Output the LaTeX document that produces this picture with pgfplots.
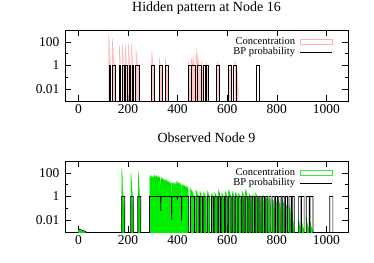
\documentclass[border=0pt]{standalone}
\usepackage{fontspec}
\setmainfont{Liberation Serif}
\usepackage{pgfplots}
\pgfplotsset{compat=1.18}
\definecolor{pinkfill}{RGB}{255,200,200}
\definecolor{pinkline}{RGB}{255,175,175}
\definecolor{gfill}{RGB}{0,238,0}
\definecolor{gline}{RGB}{0,225,0}
\definecolor{glegend}{RGB}{60,230,60}
\begin{document}
\begin{tikzpicture}
\useasboundingbox (0,0) rectangle (374pt,262pt);
\begin{axis}[at={(65pt,161pt)}, anchor=south west, title={Hidden pattern at Node 16},
  scale only axis, width=283pt, height=71pt,
  xmin=-54, xmax=1087, ymode=log, ymin=1e-3, ymax=1e3,
  xtick={0,200,400,600,800,1000}, xticklabels={0,200,400,600,800,1000},
  ytick={0.01,1,100}, yticklabels={0.01,1,100},
  minor ytick={0.1,10},
  tick align=inside, major tick length=6pt, minor tick length=3pt,
  every tick/.style={black, line width=0.6pt},
  axis line style={line width=0.8pt},
  tick label style={font=\fontsize{13.5}{15}\selectfont},
  yticklabel style={xshift=-2pt},
  title style={font=\fontsize{14}{16}\selectfont, anchor=base, yshift=12pt},
  legend style={draw=none, fill=none, at={(1,1)}, anchor=north east, xshift=-15pt, yshift=-6pt,
    font=\fontsize{10.5}{12}\selectfont, inner sep=0pt, nodes={inner sep=1pt}, column sep=4pt, row sep=0pt},
  legend plot pos=right, legend cell align=right]
\addplot[fill=pinkfill, draw=pinkline, line width=0.3pt,
  legend image code/.code={\draw[pinkline, line width=0.8pt, fill=none] (0pt,-2.5pt) rectangle (32pt,2.5pt);}]
coordinates {
(0,1e-4)
(122,1e-4)(122,500)(124,120)(126,15)(128,3)(130,0.6)(131,1e-4)
(137,1e-4)(137,180)(139,50)(141,8)(144,2)(147,0.5)(148,1e-4)
(165,1e-4)(165,50)(167,12)(169,2)(171,0.4)(172,1e-4)
(177,1e-4)(177,75)(179,15)(181,3)(184,0.5)(185,1e-4)
(189,1e-4)(189,62)(191,12)(193,3)(196,0.5)(197,1e-4)
(202,1e-4)(202,70)(204,15)(206,3)(209,0.5)(210,1e-4)
(214,1e-4)(214,70)(216,15)(218,3)(221,0.5)(222,1e-4)
(232,1e-4)(232,28)(234,8)(237,2)(242,0.8)(245,0.3)(246,1e-4)
(292,1e-4)(296,18)(298,5)(300,1.5)(305,0.5)(306,1e-4)
(326,1e-4)(326,4.6)(328,2)(331,1)(336,0.3)(337,1e-4)
(350,1e-4)(350,4.7)(352,2)(355,1)(360,0.3)(361,1e-4)
(444,1e-4)(444,2.6)(447,1)(451,0.5)(453,1e-4)
(455,1e-4)(455,4)(458,1.5)(461,0.7)(462,6.8)(464,2)(467,0.8)(470,0.3)(471,1e-4)
(474,1e-4)(474,38)(476,8)(478,2)(480,0.8)(481,10)(483,3)(487,1)(492,0.5)(494,1e-4)
(496,1e-4)(496,2.9)(499,1)(502,0.5)(503,1e-4)
(514,1e-4)(514,2.2)(517,1)(521,0.5)(523,1e-4)
(561,1e-4)(561,2.2)(564,1)(567,0.3)(568,1e-4)
(610,1e-4)(610,1.3)(613,0.8)(617,0.2)(618,1e-4)
(631,1e-4)(631,2.9)(634,1.2)(640,0.3)(645,0.01)(646,1e-4)
(1050,1e-4)
};
\addlegendentry{Concentration}
\addplot[black, line width=0.7pt,
  legend image code/.code={\draw[black, line width=0.8pt] (0pt,0pt) -- (32pt,0pt);}]
coordinates {
(0,1e-4)
(123,1e-4)(123,1)(130,1)(130,1e-4)
(137,1e-4)(137,1)(147,1)(147,1e-4)
(165,1e-4)(165,1)(171,1)(171,1e-4)
(178,1e-4)(178,1)(184,1)(184,1e-4)
(190,1e-4)(190,1)(196,1)(196,1e-4)
(204,1e-4)(204,1)(210,1)(210,1e-4)
(216,1e-4)(216,1)(222,1)(222,1e-4)
(231,1e-4)(231,1)(245,1)(245,1e-4)
(295,1e-4)(295,1)(306,1)(306,1e-4)
(325,1e-4)(325,1)(337,1)(337,1e-4)
(349,1e-4)(349,1)(361,1)(361,1e-4)
(443,1e-4)(443,1)(454,1)(454,1e-4)
(456,1e-4)(456,1)(470,1)(470,1e-4)
(481,1e-4)(481,1)(494,1)(494,1e-4)
(503,1e-4)(503,1)(512,1)(512,1e-4)
(514,1e-4)(514,1)(523,1)(523,1e-4)
(557,1e-4)(557,1)(567,1)(567,1e-4)
(604,1e-4)(604,1)(617,1)(617,1e-4)
(624,1e-4)(624,1)(637,1)(637,1e-4)
(718,1e-4)(718,1)(730,1)(730,1e-4)
(1050,1e-4)
};
\addlegendentry{BP probability}
\end{axis}
\begin{axis}[at={(65pt,30pt)}, anchor=south west, title={Observed Node 9},
  scale only axis, width=283pt, height=71pt,
  xmin=-54, xmax=1087, ymode=log, ymin=1e-3, ymax=1e3,
  xtick={0,200,400,600,800,1000}, xticklabels={0,200,400,600,800,1000},
  ytick={0.01,1,100}, yticklabels={0.01,1,100},
  minor ytick={0.1,10},
  tick align=inside, major tick length=6pt, minor tick length=3pt,
  every tick/.style={black, line width=0.6pt},
  axis line style={line width=0.8pt},
  tick label style={font=\fontsize{13.5}{15}\selectfont},
  yticklabel style={xshift=-2pt},
  title style={font=\fontsize{14}{16}\selectfont, anchor=base, yshift=12pt},
  legend style={draw=none, fill=none, at={(1,1)}, anchor=north east, xshift=-15pt, yshift=-6pt,
    font=\fontsize{10.5}{12}\selectfont, inner sep=0pt, nodes={inner sep=1pt}, column sep=4pt, row sep=0pt},
  legend plot pos=right, legend cell align=right]
\addplot[fill=gfill, draw=gline, line width=0.3pt,
  legend image code/.code={\draw[glegend, line width=0.8pt, fill=none] (0pt,-2.5pt) rectangle (32pt,2.5pt);}]
coordinates {
(0,1e-4)(0,0.0015)(15,0.0012)(30,0.001)(32,1e-4)
(175,1e-4)(175,240)(177,40)(179,3)(182,0.5)(186,0.05)(188,1e-4)
(212,1e-4)(212,100)(214,20)(217,2)(220,0.1)(222,1e-4)
(241,1e-4)(241,130)(243,25)(246,3)(249,0.2)(251,1e-4)
(288,1e-4)(288,60)(290,15)(292,55)(294,12)(296,65)(298,18)(300,50)(302,10)(304,60)(306,20)(308,70)(310,15)(312,55)(314,20)(316,65)(318,12)(320,50)(322,18)(324,60)(326,15)(328,45)(330,8)(331,0.05)(333,40)(335,10)(337,45)(339,12)(341,35)(343,8)(345,30)(347,10)(349,28)(351,7)(353,25)(355,9)(357,30)(359,6)(361,22)(363,8)(365,20)(367,5)(369,18)(371,6)(373,15)(375,0.01)(377,16)(379,5)(381,14)(383,4)(385,18)(387,6)(389,12)(391,4)(393,15)(395,5)(397,20)(399,6)(401,18)(403,5)(405,14)(407,4)(409,16)(411,5)(413,12)(415,0.01)(417,10)(419,4)(421,12)(423,3)(425,9)(427,3)(429,10)(431,3)(433,8)(435,2)(437,7)(439,2)(441,8)(443,2)(445,1e-4)
(452,1e-4)(452,5.6)(454,1.5)(456,4)(458,0.8)(461,3)(464,0.5)(467,1.5)(468,1e-4)
(474,1e-4)(474,4)(476,1.2)(478,3)(481,0.6)(484,1.5)(486,1e-4)
(490,1e-4)(490,3)(492,0.9)(494,2)(497,0.4)(499,1)(500,1e-4)
(505,1e-4)(505,2.5)(507,0.7)(509,1.8)(512,0.4)(514,1)(515,1e-4)
(520,1e-4)(520,3)(522,0.9)(524,2)(527,0.5)(529,1.2)(530,1e-4)
(537,1e-4)(537,2)(539,0.6)(541,1.4)(544,0.5)(545,1e-4)
(550,1e-4)(550,2.5)(552,0.7)(554,1.8)(557,0.4)(559,1)(560,1e-4)
(565,1e-4)(565,4)(567,1.2)(569,2.5)(572,0.6)(573,1e-4)
(578,1e-4)(578,2)(580,0.6)(582,1.4)(585,0.3)(587,0.8)(588,1e-4)
(592,1e-4)(592,3)(594,0.9)(596,2)(599,0.5)(600,1e-4)
(605,1e-4)(605,4)(607,1.2)(609,2.8)(612,0.6)(614,1.5)(615,1e-4)
(620,1e-4)(620,3)(622,0.9)(624,2)(627,0.5)(628,1e-4)
(633,1e-4)(633,2.5)(635,0.7)(637,1.8)(640,0.4)(641,1e-4)
(646,1e-4)(646,2)(648,0.6)(650,1.4)(653,0.3)(655,0.8)(656,1e-4)
(660,1e-4)(660,3)(662,0.9)(664,2)(667,0.5)(668,1e-4)
(673,1e-4)(673,4)(675,1.2)(677,2.8)(680,0.6)(682,1.2)(683,1e-4)
(688,1e-4)(688,2)(690,0.6)(692,1.4)(695,0.3)(696,1e-4)
(701,1e-4)(701,1.5)(703,0.45)(705,1)(708,0.25)(710,1e-4)
(715,1e-4)(715,2.2)(717,0.6)(719,1.5)(722,0.3)(723,1e-4)
(728,1e-4)(728,1.2)(730,0.35)(732,0.8)(735,0.2)(736,1e-4)
(741,1e-4)(741,1.5)(743,0.45)(745,1)(748,0.2)(750,1e-4)
(755,1e-4)(755,1.1)(757,0.3)(759,0.7)(762,0.15)(763,1e-4)
(768,1e-4)(768,1)(770,0.3)(772,0.6)(775,0.12)(776,1e-4)
(781,1e-4)(781,0.8)(783,0.2)(785,0.5)(788,0.1)(790,1e-4)
(795,1e-4)(795,0.6)(797,0.15)(799,0.4)(802,0.08)(803,1e-4)
(808,1e-4)(808,0.5)(810,0.12)(812,0.3)(815,0.06)(817,1e-4)
(822,1e-4)(822,0.6)(824,0.15)(826,0.35)(829,0.05)(830,1e-4)
(835,1e-4)(835,0.3)(837,0.08)(839,0.2)(842,0.03)(843,1e-4)
(849,1e-4)(849,0.23)(851,0.06)(853,0.12)(856,0.02)(858,1e-4)
(862,1e-4)(862,0.05)(865,0.01)(868,0.003)(870,1e-4)
(888,1e-4)(888,0.012)(892,0.004)(896,0.002)(897,1e-4)
(900,1e-4)(900,0.01)(904,0.003)(909,0.0015)(910,1e-4)
(919,1e-4)(919,0.015)(923,0.005)(929,0.002)(931,1e-4)
(934,1e-4)(934,0.008)(938,0.003)(944,0.0015)(946,1e-4)
(1050,1e-4)
};
\addlegendentry{Concentration}
\addplot[black, line width=0.7pt,
  legend image code/.code={\draw[black, line width=0.8pt] (0pt,0pt) -- (32pt,0pt);}]
coordinates {
(0,0.0018)(15,0.0014)(30,0.0011)(31,1e-4)
(175,1e-4)(175,1)(187,1)(187,1e-4)
(211,1e-4)(211,1)(221,1)(221,1e-4)
(239,1e-4)(239,1)(251,1)(251,1e-4)
(287,1e-4)(287,1)(331,1)(332,0.06)(333,1)(375,1)(376,0.01)(377,1)(398,1)(399,0.55)(400,1)(415,1)(416,0.01)(417,1)(445,1)(445,1e-4)
(452,1e-4)(452,1)(468,1)(468,1e-4)
(474,1e-4)(474,1)(486,1)(486,1e-4)
(490,1e-4)(490,1)(500,1)(500,1e-4)
(505,1e-4)(505,1)(515,1)(515,1e-4)
(520,1e-4)(520,1)(530,1)(530,1e-4)
(537,1e-4)(537,1)(545,1)(545,1e-4)
(550,1e-4)(550,1)(560,1)(560,1e-4)
(565,1e-4)(565,1)(573,1)(573,1e-4)
(578,1e-4)(578,1)(588,1)(588,1e-4)
(592,1e-4)(592,1)(600,1)(600,1e-4)
(605,1e-4)(605,1)(615,1)(615,1e-4)
(620,1e-4)(620,1)(628,1)(628,1e-4)
(633,1e-4)(633,1)(641,1)(641,1e-4)
(646,1e-4)(646,1)(656,1)(656,1e-4)
(660,1e-4)(660,1)(668,1)(668,1e-4)
(673,1e-4)(673,1)(683,1)(683,1e-4)
(688,1e-4)(688,1)(696,1)(696,1e-4)
(701,1e-4)(701,1)(710,1)(710,1e-4)
(715,1e-4)(715,1)(723,1)(723,1e-4)
(728,1e-4)(728,1)(736,1)(736,1e-4)
(741,1e-4)(741,1)(750,1)(750,1e-4)
(755,1e-4)(755,1)(763,1)(763,1e-4)
(768,1e-4)(768,1)(776,1)(776,1e-4)
(781,1e-4)(781,1)(790,1)(790,1e-4)
(795,1e-4)(795,1)(803,1)(803,1e-4)
(808,1e-4)(808,1)(817,1)(817,1e-4)
(822,1e-4)(822,1)(830,1)(830,1e-4)
(835,1e-4)(835,1)(843,1)(843,1e-4)
(849,1e-4)(849,1)(858,1)(858,1e-4)
(862,1e-4)(862,1)(870,1)(870,1e-4)
(888,1e-4)(888,1)(897,1)(897,1e-4)
(900,1e-4)(900,1)(910,1)(910,1e-4)
(919,1e-4)(919,1)(931,1)(931,1e-4)
(934,1e-4)(934,1)(946,1)(946,1e-4)
(1013,1e-4)(1013,1)(1026,1)(1026,1e-4)
(1050,1e-4)
};
\addlegendentry{BP probability}
\end{axis}
\end{tikzpicture}
\end{document}
